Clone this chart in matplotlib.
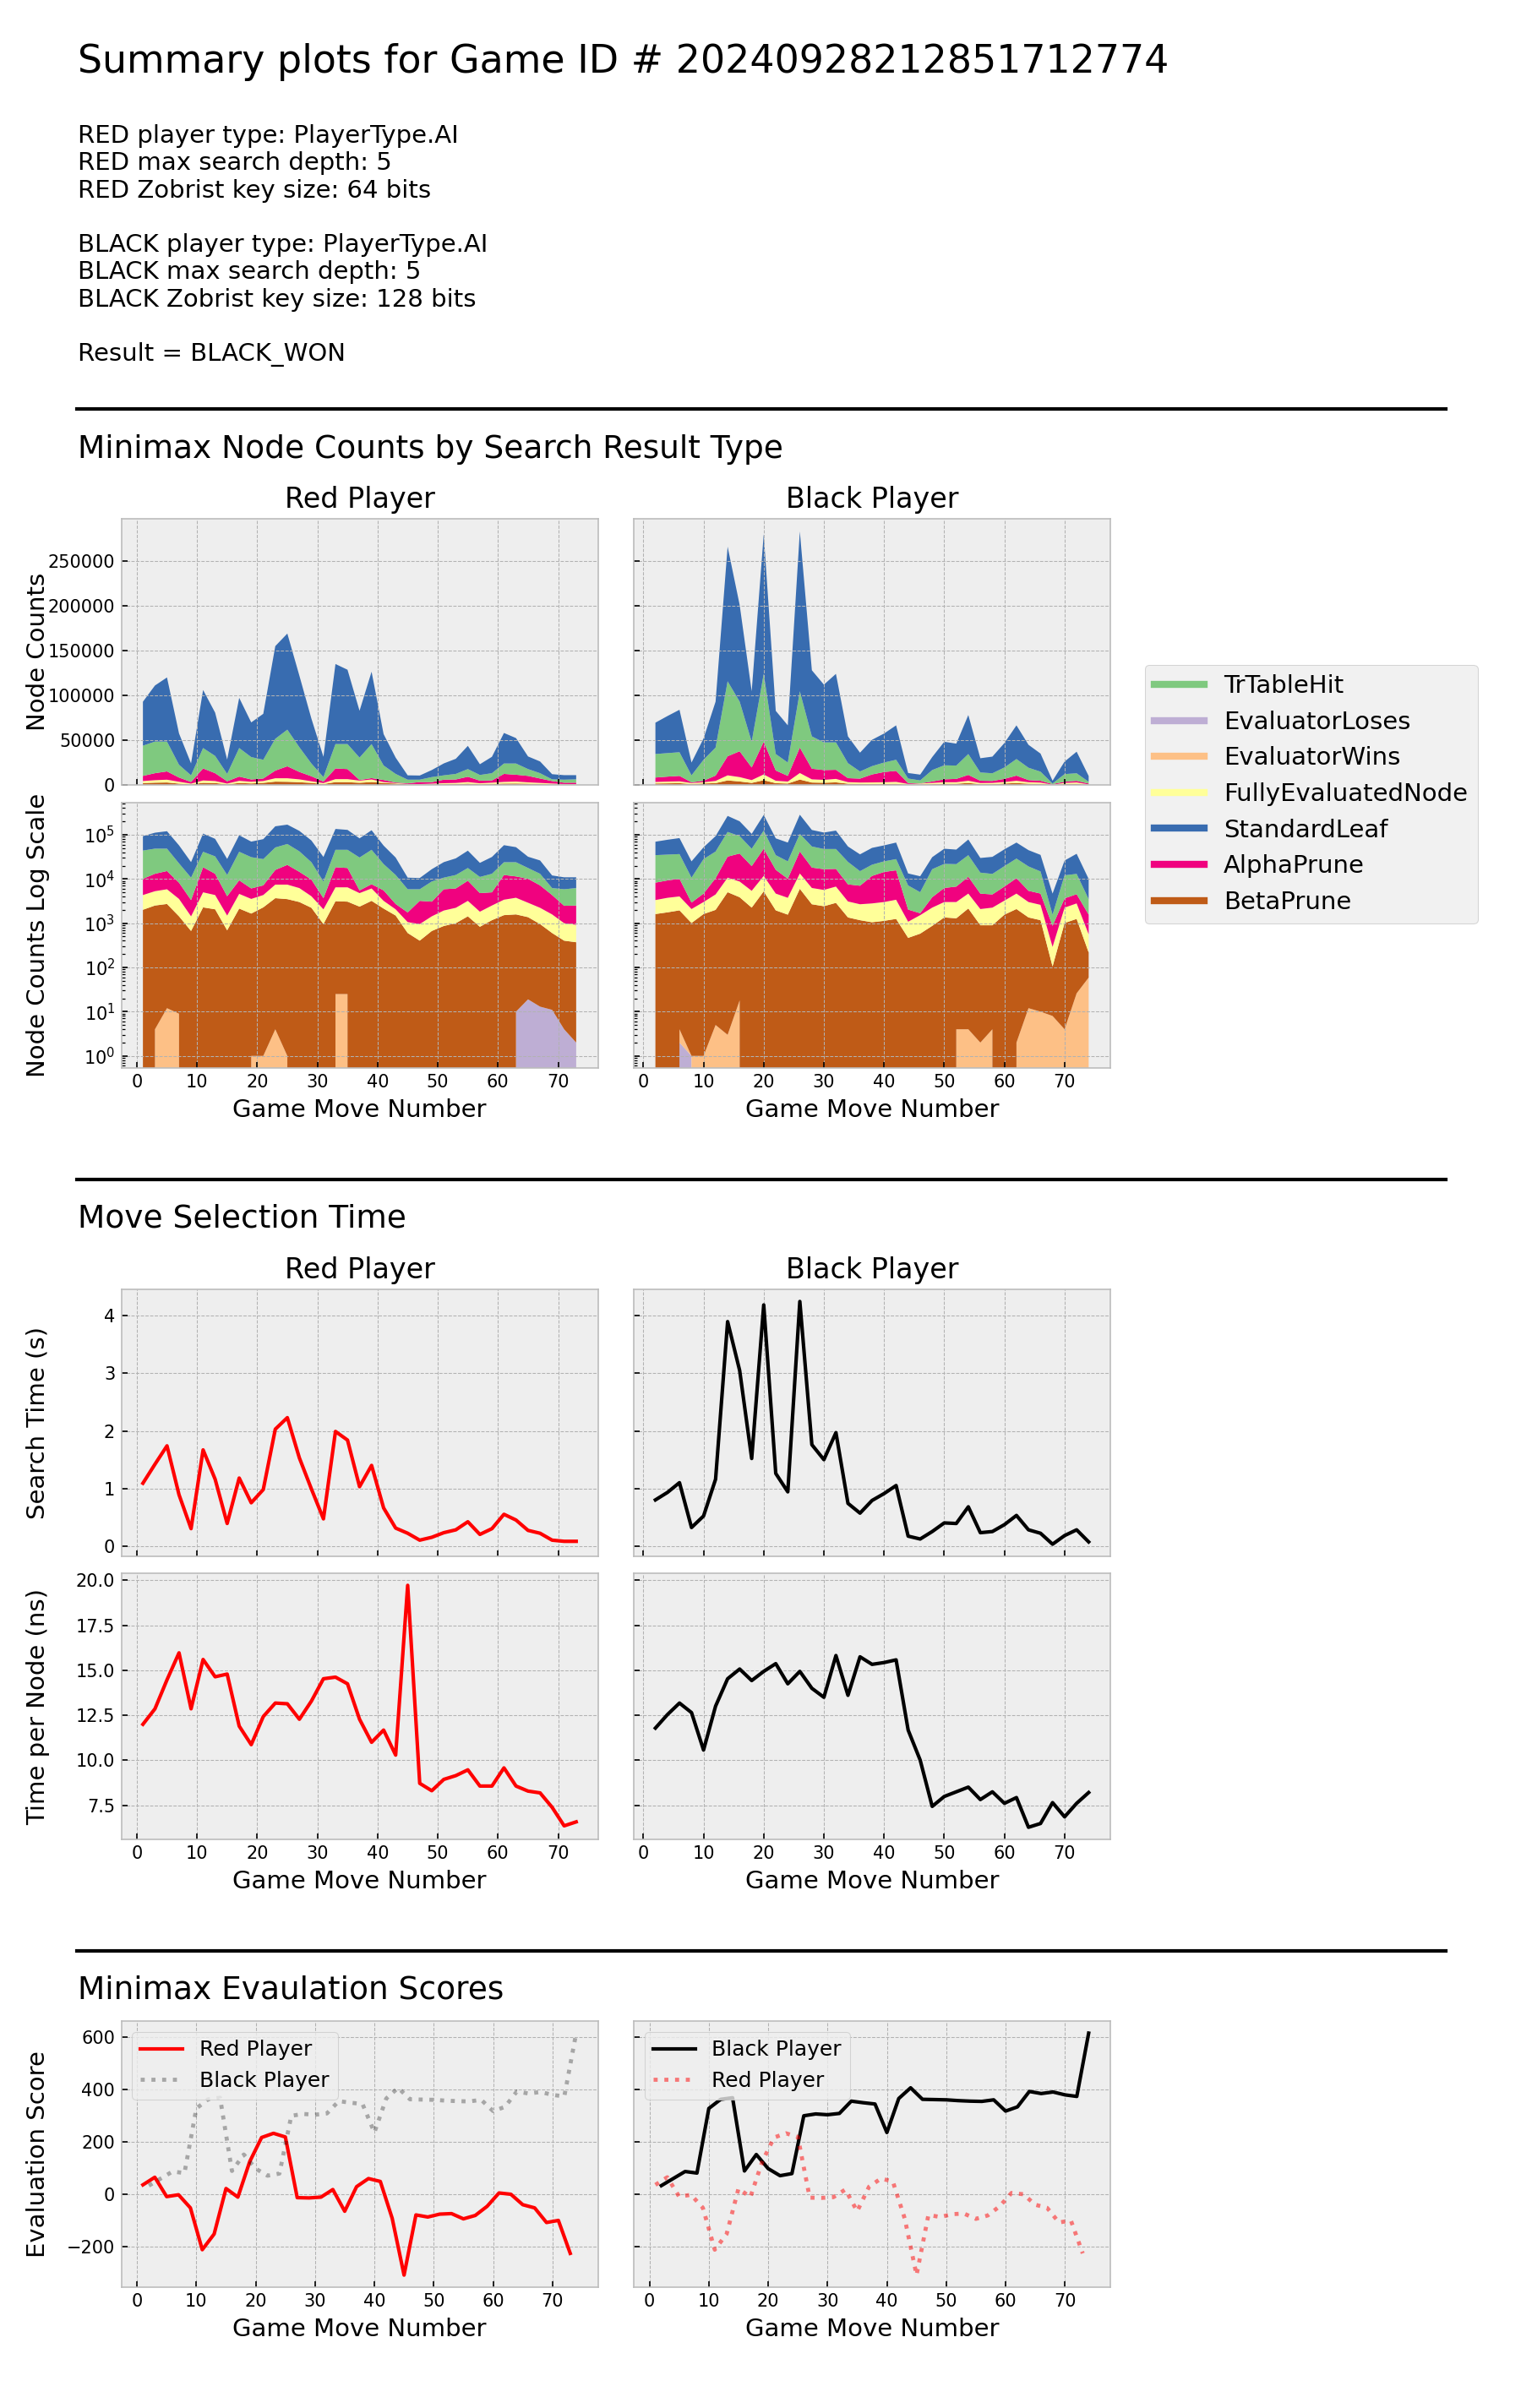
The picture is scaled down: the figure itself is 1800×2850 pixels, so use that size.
import matplotlib
matplotlib.use("Agg")
import matplotlib.pyplot as plt
from matplotlib.lines import Line2D

plt.style.use("bmh")
plt.rcParams["mathtext.fontset"] = "dejavusans"
plt.rcParams["font.family"] = ["DejaVu Sans"]

game_id = "20240928212851712774"
info_lines = [
    "RED player type: PlayerType.AI",
    "RED max search depth: 5",
    "RED Zobrist key size: 64 bits",
    "",
    "BLACK player type: PlayerType.AI",
    "BLACK max search depth: 5",
    "BLACK Zobrist key size: 128 bits",
    "",
    "Result = BLACK_WON",
]

red_moves = [1, 3, 5, 7, 9, 11, 13, 15, 17, 19, 21, 23, 25, 27, 29, 31, 33, 35, 37,
             39, 41, 43, 45, 47, 49, 51, 53, 55, 57, 59, 61, 63, 65, 67, 69, 71, 73]
black_moves = [2, 4, 6, 8, 10, 12, 14, 16, 18, 20, 22, 24, 26, 28, 30, 32, 34, 36, 38,
               40, 42, 44, 46, 48, 50, 52, 54, 56, 58, 60, 62, 64, 66, 68, 70, 72, 74]

# node counts by search result type
red_trtable = [33730, 35300, 33300, 14260, 7370, 22800, 19300, 8230, 31890, 25000, 20940,
               35500, 40900, 27600, 14220, 5070, 27200, 27900, 24990, 38000, 16190, 9580,
               4100, 2650, 5680, 4850, 6200, 8580, 6310, 8110, 11600, 12500, 7630, 5940,
               1890, 3380, 3710]
red_loses = [0, 0, 0, 0, 0, 0, 0, 0, 0, 0, 0, 0, 0, 0, 0, 0, 0, 0, 0, 0, 0, 0, 0, 0, 0,
             0, 0, 0, 0, 0, 0, 10, 19, 13, 11, 4, 2]
red_wins = [0, 4, 12, 9, 0, 0, 0, 0, 0, 1, 1, 4, 1, 0, 0, 0, 25, 25, 0, 0, 0, 0, 0, 0, 0,
            0, 0, 0, 0, 0, 0, 0, 0, 0, 0, 0, 0]
red_fully = [2320, 2780, 3130, 2110, 764, 2710, 2270, 800, 2460, 1890, 2050, 3770, 3950,
             3210, 1840, 1105, 3330, 3400, 2420, 2900, 1060, 570, 457, 552, 764, 1070,
             1230, 1770, 990, 1340, 1880, 2180, 1530, 1275, 980, 597, 547]
red_standard = [49100, 62600, 71600, 35000, 13300, 64800, 48300, 16000, 56000, 38700,
                51300, 103500, 107300, 79900, 50100, 22650, 89400, 83000, 52300, 80800,
                35000, 18200, 4850, 4650, 7850, 13300, 16900, 25900, 12000, 18300, 34100,
                28400, 14100, 13100, 5780, 5050, 4680]
red_alpha = [5740, 7810, 9250, 4700, 1900, 13410, 8770, 2580, 4710, 2560, 2830, 8550,
             13350, 8280, 5610, 1620, 11930, 11230, 720, 1500, 2310, 660, 693, 2245, 1640,
             3915, 3870, 5920, 2970, 2480, 8900, 7640, 7170, 4930, 2750, 1470, 1592]
red_beta = [2010, 2506, 2708, 1421, 666, 2280, 2060, 690, 2140, 1649, 2279, 3676, 3499,
            3010, 2230, 955, 3115, 3045, 2370, 3200, 2140, 1490, 600, 403, 666, 865, 1000,
            1430, 830, 1170, 1520, 1570, 1351, 942, 589, 399, 369]

black_trtable = [26250, 26230, 26400, 7770, 23430, 31300, 83700, 55400, 28700, 75800,
                 18400, 14900, 62800, 36100, 30900, 30600, 16750, 7970, 9300, 10600,
                 12400, 5100, 3340, 12740, 15650, 14870, 23300, 9230, 8530, 12770, 18500,
                 13800, 10130, 689, 8460, 8470, 1930]
black_loses = [0, 0, 2, 1, 0, 0, 0, 0, 0, 0, 0, 0, 0, 0, 0, 0, 0, 0, 0, 0, 0, 0, 0, 0, 0,
               0, 0, 0, 0, 0, 0, 0, 0, 0, 0, 0, 0]
black_wins = [0, 0, 2, 0, 1, 5, 3, 18, 0, 0, 0, 0, 0, 0, 0, 0, 0, 0, 0, 0, 0, 0, 0, 0, 0,
              4, 4, 2, 4, 0, 2, 12, 10, 8, 4, 26, 59]
black_fully = [1730, 1990, 2080, 1080, 1400, 2470, 5680, 4880, 3150, 6450, 2720, 2190,
               7320, 3570, 3230, 3850, 1750, 1510, 1750, 1880, 2140, 614, 940, 1380, 1660,
               1720, 2520, 1190, 1350, 1680, 2580, 1660, 1430, 187, 1240, 1550, 344]
black_standard = [35000, 41400, 47400, 14300, 23800, 51300, 150300, 108000, 56300, 156000,
                  48200, 41500, 178500, 73800, 64500, 76500, 29900, 21000, 29400, 32400,
                  38400, 6170, 6480, 14500, 26300, 24500, 43500, 15900, 18600, 27300,
                  37600, 25600, 20200, 3110, 14000, 24100, 6490]
black_alpha = [4910, 5520, 6070, 840, 1660, 5930, 21300, 28860, 14100, 36500, 11430, 6350,
               28400, 11850, 10950, 10170, 4450, 4350, 8900, 11390, 12310, 950, 160, 1610,
               3240, 3720, 6530, 2580, 2220, 3490, 5730, 2390, 2070, 579, 1390, 1730, 998]
black_beta = [1610, 1760, 1946, 1009, 1609, 1995, 5017, 3842, 2250, 5250, 1950, 1560, 5980,
              2680, 2420, 2880, 1350, 1170, 1050, 1130, 1250, 466, 580, 871, 1350, 1286,
              2146, 896, 894, 1560, 2088, 1338, 1160, 97, 1006, 1224, 159]

# search time (s) and time per node (ns)
red_search_time = [1.09, 1.42, 1.74, 0.89, 0.30, 1.67, 1.16, 0.39, 1.18, 0.75, 0.98, 2.03,
                   2.23, 1.53, 0.99, 0.47, 1.99, 1.84, 1.03, 1.40, 0.66, 0.31, 0.22, 0.10,
                   0.15, 0.23, 0.28, 0.42, 0.20, 0.30, 0.55, 0.45, 0.27, 0.22, 0.10, 0.08,
                   0.08]
black_search_time = [0.80, 0.93, 1.10, 0.32, 0.52, 1.16, 3.90, 3.05, 1.52, 4.19, 1.26,
                     0.94, 4.25, 1.76, 1.50, 1.97, 0.74, 0.57, 0.79, 0.91, 1.05, 0.17,
                     0.12, 0.25, 0.40, 0.39, 0.68, 0.23, 0.25, 0.37, 0.53, 0.28, 0.22,
                     0.03, 0.18, 0.28, 0.07]
red_time_per_node = [12.0, 12.86, 14.47, 15.97, 12.86, 15.6, 14.64, 14.79, 11.9, 10.87,
                     12.43, 13.18, 13.14, 12.28, 13.29, 14.53, 14.62, 14.25, 12.28, 11.0,
                     11.68, 10.29, 19.72, 8.72, 8.31, 8.94, 9.15, 9.47, 8.57, 8.57, 9.58,
                     8.57, 8.29, 8.19, 7.39, 6.36, 6.58]
black_time_per_node = [11.79, 12.54, 13.18, 12.65, 10.57, 13.01, 14.53, 15.07, 14.43,
                       14.94, 15.37, 14.25, 14.94, 14.0, 13.5, 15.82, 13.61, 15.75, 15.33,
                       15.43, 15.58, 11.68, 10.01, 7.44, 7.99, 8.25, 8.51, 7.82, 8.25,
                       7.61, 7.93, 6.28, 6.49, 7.65, 6.86, 7.61, 8.21]

# minimax evaluation scores
red_eval = [36, 65, -9, -2, -52, -212, -152, 22, -11, 125, 217, 233, 219, -13, -14, -11,
            18, -65, 29, 60, 49, -92, -309, -79, -87, -76, -74, -94, -81, -46, 5, 0, -40,
            -52, -108, -100, -226]
black_eval = [33, 60, 87, 81, 328, 363, 369, 89, 152, 98, 71, 79, 300, 307, 304, 309, 356,
              350, 345, 236, 366, 407, 363, 362, 361, 358, 356, 355, 361, 318, 334, 393,
              385, 391, 380, 374, 616]

result_types = ["TrTableHit", "EvaluatorLoses", "EvaluatorWins", "FullyEvaluatedNode",
                "StandardLeaf", "AlphaPrune", "BetaPrune"]
accent = plt.get_cmap("Accent")
type_colors = {name: accent(i) for i, name in enumerate(result_types)}
stack_order = ["EvaluatorLoses", "EvaluatorWins", "BetaPrune", "FullyEvaluatedNode",
               "AlphaPrune", "TrTableHit", "StandardLeaf"]

red_counts = {"TrTableHit": red_trtable, "EvaluatorLoses": red_loses,
              "EvaluatorWins": red_wins, "FullyEvaluatedNode": red_fully,
              "StandardLeaf": red_standard, "AlphaPrune": red_alpha, "BetaPrune": red_beta}
black_counts = {"TrTableHit": black_trtable, "EvaluatorLoses": black_loses,
                "EvaluatorWins": black_wins, "FullyEvaluatedNode": black_fully,
                "StandardLeaf": black_standard, "AlphaPrune": black_alpha,
                "BetaPrune": black_beta}

W, H = 1800, 2850
fig = plt.figure(figsize=(12, 19), dpi=150)


def rect(left, top, width, height):
    return [left / W, 1 - (top + height) / H, width / W, height / H]


def fig_y(py):
    return 1 - py / H


LX, BX, AW = 143.5, 750, 564
YLAB_X = -0.15

# header
fig.text(92 / W, fig_y(73), f"Summary plots for Game ID # {game_id}", fontsize=22,
         va="center")
for i, line in enumerate(info_lines):
    if line:
        fig.text(92 / W, fig_y(161 + 32.3 * i), line, fontsize=14, va="center")

for py in [484, 1396, 2309]:
    fig.add_artist(Line2D([91 / W, 1711 / W], [fig_y(py), fig_y(py)], color="black",
                          lw=2, transform=fig.transFigure))

fig.text(92 / W, fig_y(532), "Minimax Node Counts by Search Result Type", fontsize=18,
         va="center")
fig.text(92 / W, fig_y(1443), "Move Selection Time", fontsize=18, va="center")
fig.text(92 / W, fig_y(2356), "Minimax Evaulation Scores", fontsize=18, va="center")

# node counts
ax_lin_r = fig.add_axes(rect(LX, 614, AW, 315))
ax_lin_b = fig.add_axes(rect(BX, 614, AW, 315), sharey=ax_lin_r)
ax_log_r = fig.add_axes(rect(LX, 950, AW, 314), sharex=ax_lin_r)
ax_log_b = fig.add_axes(rect(BX, 950, AW, 314), sharex=ax_lin_b, sharey=ax_log_r)

for ax_l, ax_g, moves, counts in [(ax_lin_r, ax_log_r, red_moves, red_counts),
                                  (ax_lin_b, ax_log_b, black_moves, black_counts)]:
    for ax in (ax_l, ax_g):
        ax.stackplot(moves, *[counts[k] for k in stack_order],
                     colors=[type_colors[k] for k in stack_order], linewidth=0)
ax_log_r.set_yscale("log")

ax_lin_r.set_title("Red Player", fontsize=16)
ax_lin_b.set_title("Black Player", fontsize=16)
ax_lin_r.set_ylabel("Node Counts", fontsize=14)
ax_log_r.set_ylabel("Node Counts Log Scale", fontsize=14)
for ax in (ax_log_r, ax_log_b):
    ax.set_xlabel("Game Move Number", fontsize=14)
for ax in (ax_lin_r, ax_lin_b):
    ax.tick_params(labelbottom=False)
for ax in (ax_lin_b, ax_log_b):
    ax.tick_params(labelleft=False)

handles = [Line2D([], [], color=type_colors[k], lw=4) for k in result_types]
fig.legend(handles, result_types, loc="center left", fontsize=14, handlelength=2.0,
           bbox_to_anchor=(1340 / W, fig_y(940)))

# move selection time
ax_st_r = fig.add_axes(rect(LX, 1526, AW, 316))
ax_st_b = fig.add_axes(rect(BX, 1526, AW, 316), sharey=ax_st_r)
ax_tp_r = fig.add_axes(rect(LX, 1862, AW, 315), sharex=ax_st_r)
ax_tp_b = fig.add_axes(rect(BX, 1862, AW, 315), sharex=ax_st_b, sharey=ax_tp_r)

ax_st_r.plot(red_moves, red_search_time, color="red")
ax_st_b.plot(black_moves, black_search_time, color="black")
ax_tp_r.plot(red_moves, red_time_per_node, color="red")
ax_tp_b.plot(black_moves, black_time_per_node, color="black")

ax_st_r.set_title("Red Player", fontsize=16)
ax_st_b.set_title("Black Player", fontsize=16)
ax_st_r.set_ylabel("Search Time (s)", fontsize=14)
ax_tp_r.set_ylabel("Time per Node (ns)", fontsize=14)
for ax in (ax_tp_r, ax_tp_b):
    ax.set_xlabel("Game Move Number", fontsize=14)
for ax in (ax_st_r, ax_st_b):
    ax.tick_params(labelbottom=False)
for ax in (ax_st_b, ax_tp_b):
    ax.tick_params(labelleft=False)

# evaluation scores
ax_ev_r = fig.add_axes(rect(LX, 2392, AW, 315))
ax_ev_b = fig.add_axes(rect(BX, 2392, AW, 315), sharey=ax_ev_r)

ax_ev_r.plot(red_moves, red_eval, color="red", label="Red Player")
ax_ev_r.plot(black_moves, black_eval, color="black", ls=":", lw=2.3, alpha=0.3,
             label="Black Player")
ax_ev_b.plot(black_moves, black_eval, color="black", label="Black Player")
ax_ev_b.plot(red_moves, red_eval, color="red", ls=":", lw=2.3, alpha=0.5,
             label="Red Player")
for ax in (ax_ev_r, ax_ev_b):
    ax.legend(loc="upper left", fontsize=12)
    ax.set_xlabel("Game Move Number", fontsize=14)
ax_ev_r.set_ylabel("Evaluation Score", fontsize=14)
ax_ev_b.tick_params(labelleft=False)

for ax in (ax_lin_r, ax_log_r, ax_st_r, ax_tp_r, ax_ev_r):
    ax.yaxis.set_label_coords(YLAB_X, 0.5)

fig.savefig("out.png", dpi=150)
